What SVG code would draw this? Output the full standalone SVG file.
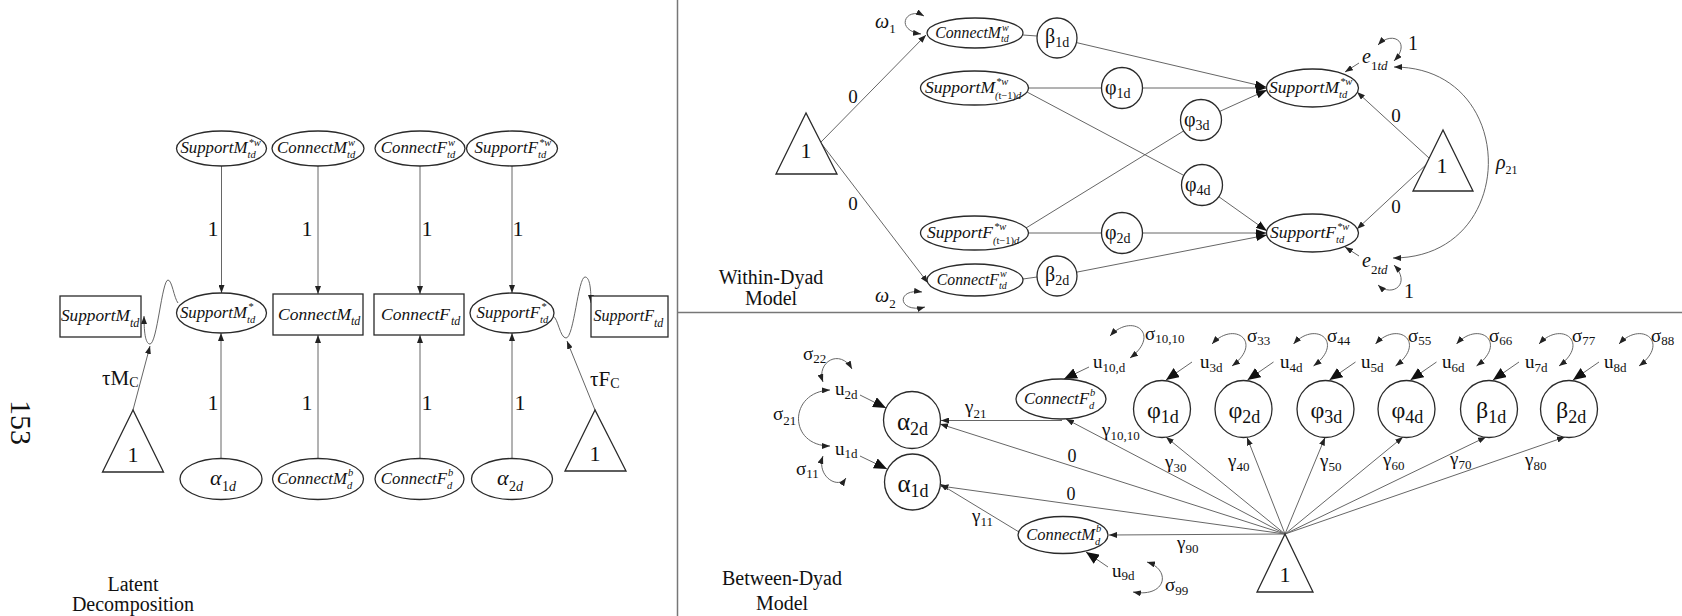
<svg xmlns="http://www.w3.org/2000/svg" width="1682" height="616" viewBox="0 0 1682 616">
<style>
.n{fill:#fff;stroke:#2a2a2a;stroke-width:1.3}
.e{fill:none;stroke:#666;stroke-width:1}
.t{font-family:"Liberation Serif","Times New Roman",serif;fill:#111}
.i{font-style:italic}
.u{font-style:normal}
.m{text-anchor:middle}
.r{text-anchor:end}
</style>
<defs>
<marker id="a" viewBox="0 0 8 6" refX="8" refY="3" markerWidth="8" markerHeight="6" markerUnits="userSpaceOnUse" orient="auto-start-reverse"><path d="M0,0L8,3L0,6z" fill="#222"/></marker>
<marker id="b" viewBox="0 0 13 11" refX="13" refY="5.5" markerWidth="13" markerHeight="11" markerUnits="userSpaceOnUse" orient="auto"><path d="M0,0L13,5.5L0,11z" fill="#111"/></marker>
<marker id="c" viewBox="0 0 11 8" refX="11" refY="4" markerWidth="11" markerHeight="8" markerUnits="userSpaceOnUse" orient="auto"><path d="M0,0L11,4L0,8z" fill="#111"/></marker>
</defs>
<rect width="1682" height="616" fill="#fff"/>

<g id="dividers" stroke="#777" stroke-width="1.5">
<line x1="677.5" y1="0" x2="677.5" y2="616"/>
<line x1="677" y1="312.5" x2="1682" y2="312.5"/>
</g>

<text id="page-number" class="t" transform="translate(11,400) rotate(90)" font-size="30">153</text>

<!-- ===== Latent decomposition ===== -->
<g id="L-edges" class="e">
<line x1="221.5" y1="166" x2="221.5" y2="293" marker-end="url(#a)"/>
<line x1="318" y1="166" x2="318" y2="294" marker-end="url(#a)"/>
<line x1="420" y1="166" x2="420" y2="294" marker-end="url(#a)"/>
<line x1="512" y1="166" x2="512" y2="293" marker-end="url(#a)"/>
<line x1="221" y1="458.5" x2="221" y2="333" marker-end="url(#a)"/>
<line x1="318" y1="458.5" x2="318" y2="335" marker-end="url(#a)"/>
<line x1="420" y1="458.5" x2="420" y2="335" marker-end="url(#a)"/>
<line x1="512" y1="458.5" x2="512" y2="333" marker-end="url(#a)"/>
<path d="M178,303 C174,298 172,280 168,280 C162,280 157,344 150,344 C145,344 144,330 144,316" marker-end="url(#a)"/>
<line x1="133" y1="410" x2="150" y2="346" marker-end="url(#a)"/>
<path d="M553,316 C558,318 560,338 566,338 C574,338 578,277 585,277 C590,277 591,290 591,303" marker-end="url(#a)"/>
<line x1="595" y1="410" x2="567" y2="341" marker-end="url(#a)"/>
</g>
<g id="L-edge-labels" class="t m" font-size="22">
<text x="213" y="236">1</text><text x="307" y="236">1</text><text x="427" y="236">1</text><text x="518" y="236">1</text>
<text x="213" y="410">1</text><text x="307" y="410">1</text><text x="427" y="410">1</text><text x="520" y="410">1</text>
</g>
<text id="L-tauM" class="t" x="102" y="385" font-size="21">τM<tspan font-size="14" dy="2">C</tspan></text>
<text id="L-tauF" class="t" x="590" y="386" font-size="21">τF<tspan font-size="14" dy="2">C</tspan></text>

<g id="L-SupportMw-top"><ellipse class="n" cx="221.5" cy="148.5" rx="45" ry="17.5"/>
<text class="t i r" x="247.5" y="153" font-size="16.8">SupportM</text><text class="t i" x="248.5" y="146" font-size="10.5">*w</text><text class="t i" x="247.5" y="157.5" font-size="10.5">td</text></g>
<g id="L-ConnectMw-top"><ellipse class="n" cx="318" cy="148.5" rx="46" ry="17.5"/>
<text class="t i r" x="347" y="153" font-size="16.8">ConnectM</text><text class="t i" x="348" y="146" font-size="10.5">w</text><text class="t i" x="347" y="157.5" font-size="10.5">td</text></g>
<g id="L-ConnectFw-top"><ellipse class="n" cx="420" cy="148.5" rx="45" ry="17.5"/>
<text class="t i r" x="447" y="153" font-size="16.8">ConnectF</text><text class="t i" x="448" y="146" font-size="10.5">w</text><text class="t i" x="447" y="157.5" font-size="10.5">td</text></g>
<g id="L-SupportFw-top"><ellipse class="n" cx="512" cy="148.5" rx="45.5" ry="17.5"/>
<text class="t i r" x="538" y="153" font-size="16.8">SupportF</text><text class="t i" x="539" y="146" font-size="10.5">*w</text><text class="t i" x="538" y="157.5" font-size="10.5">td</text></g>

<g id="L-SupportM-obs"><rect class="n" x="60" y="296" width="81" height="41"/>
<text class="t i r" x="130" y="321" font-size="17.3">SupportM</text><text class="t i" x="130" y="327" font-size="12">td</text></g>
<g id="L-SupportM-star"><ellipse class="n" cx="221.5" cy="313" rx="45" ry="20"/>
<text class="t i r" x="247" y="318" font-size="16.8">SupportM</text><text class="t i" x="248" y="310" font-size="10.5">*</text><text class="t i" x="247" y="323" font-size="10.5">td</text></g>
<g id="L-ConnectM-obs"><rect class="n" x="273" y="294" width="90" height="41"/>
<text class="t i r" x="351" y="320" font-size="17.5">ConnectM</text><text class="t i" x="351" y="325" font-size="12">td</text></g>
<g id="L-ConnectF-obs"><rect class="n" x="374" y="294" width="90" height="41"/>
<text class="t i r" x="450" y="320" font-size="17.5">ConnectF</text><text class="t i" x="451" y="325" font-size="12">td</text></g>
<g id="L-SupportF-star"><ellipse class="n" cx="512" cy="313" rx="42" ry="20"/>
<text class="t i r" x="540" y="318" font-size="16.8">SupportF</text><text class="t i" x="541" y="310" font-size="10.5">*</text><text class="t i" x="540" y="323" font-size="10.5">td</text></g>
<g id="L-SupportF-obs"><rect class="n" x="591" y="296" width="77" height="41"/>
<text class="t i r" x="654" y="321" font-size="16">SupportF</text><text class="t i" x="654" y="327" font-size="12">td</text></g>

<g id="L-alpha1"><ellipse class="n" cx="221" cy="479" rx="41" ry="20.5"/>
<text class="t i" x="210" y="485" font-size="22">α</text><text class="t" x="222" y="491" font-size="14">1<tspan class="i">d</tspan></text></g>
<g id="L-ConnectMb"><ellipse class="n" cx="318" cy="479" rx="45.5" ry="20.5"/>
<text class="t i r" x="347" y="484" font-size="16.8">ConnectM</text><text class="t i" x="348" y="476" font-size="10.5">b</text><text class="t i" x="347" y="489" font-size="10.5">d</text></g>
<g id="L-ConnectFb"><ellipse class="n" cx="419.5" cy="479" rx="44.5" ry="20.5"/>
<text class="t i r" x="447" y="484" font-size="16.8">ConnectF</text><text class="t i" x="448" y="476" font-size="10.5">b</text><text class="t i" x="447" y="489" font-size="10.5">d</text></g>
<g id="L-alpha2"><ellipse class="n" cx="512" cy="479" rx="40.5" ry="20.5"/>
<text class="t i" x="497" y="485" font-size="22">α</text><text class="t" x="509" y="491" font-size="14">2<tspan class="i">d</tspan></text></g>
<g id="L-const1"><polygon class="n" points="133,410 102.5,472 163.5,472"/><text class="t m" x="133" y="462" font-size="22">1</text></g>
<g id="L-const2"><polygon class="n" points="595,410 565,471 626,471"/><text class="t m" x="595" y="461" font-size="22">1</text></g>
<text id="L-title" class="t m" font-size="20"><tspan x="133" y="591">Latent</tspan><tspan x="133" y="611">Decomposition</tspan></text>

<!-- ===== Within-dyad ===== -->
<g id="W-edges" class="e">
<line x1="821" y1="142" x2="926" y2="35" marker-end="url(#a)"/>
<line x1="821" y1="143" x2="928" y2="283" marker-end="url(#a)"/>
<path d="M924,16 C906,6 894,30 921,34" marker-start="url(#a)" marker-end="url(#a)"/>
<path d="M922,292 C895,288 898,314 925,307" marker-start="url(#a)" marker-end="url(#a)"/>
<line x1="1023" y1="35" x2="1037" y2="36"/>
<line x1="1023" y1="279" x2="1037" y2="277"/>
<line x1="1076.5" y1="42.6" x2="1266" y2="87" marker-end="url(#c)"/>
<line x1="1028.5" y1="88" x2="1101.5" y2="88"/>
<line x1="1142.5" y1="88" x2="1266.5" y2="88" marker-end="url(#c)"/>
<line x1="1219.5" y1="111.5" x2="1267" y2="90" marker-end="url(#c)"/>
<line x1="1027" y1="92" x2="1184" y2="175.5"/>
<line x1="1218.5" y1="196.5" x2="1267" y2="231" marker-end="url(#c)"/>
<line x1="1026" y1="228" x2="1183.5" y2="131"/>
<line x1="1028.5" y1="233" x2="1101.5" y2="233"/>
<line x1="1142.5" y1="233" x2="1266.5" y2="233" marker-end="url(#c)"/>
<line x1="1076.5" y1="272.2" x2="1267" y2="235" marker-end="url(#c)"/>
<line x1="1429" y1="158" x2="1357" y2="92" marker-end="url(#a)"/>
<line x1="1429" y1="162" x2="1357" y2="229" marker-end="url(#a)"/>
<line x1="1359" y1="63" x2="1345" y2="72" marker-end="url(#a)"/>
<line x1="1359" y1="256" x2="1345" y2="247" marker-end="url(#a)"/>
<path d="M1378,45 C1392,30 1412,42 1394,61" marker-start="url(#a)" marker-end="url(#a)"/>
<path d="M1394,265 C1412,284 1392,298 1378,285" marker-start="url(#a)" marker-end="url(#a)"/>
<path d="M1394,67 C1520,67 1520,258 1393,258" marker-start="url(#a)" marker-end="url(#a)"/>
</g>
<g id="W-edge-labels" class="t" font-size="19">
<text class="m" x="853" y="103">0</text><text class="m" x="853" y="210">0</text>
<text class="m" x="1396" y="122">0</text><text class="m" x="1396" y="213">0</text>
<text class="i" x="875" y="28" font-size="20">ω<tspan class="u" font-size="13" dy="5">1</tspan></text>
<text class="i" x="875" y="302" font-size="20">ω<tspan class="u" font-size="13" dy="6">2</tspan></text>
<text class="i" x="1362" y="63" font-size="20">e<tspan font-size="13" dy="7"><tspan class="u">1</tspan>td</tspan></text>
<text class="i" x="1362" y="267" font-size="20">e<tspan font-size="13" dy="7"><tspan class="u">2</tspan>td</tspan></text>
<text class="m" x="1413" y="50" font-size="20">1</text>
<text class="m" x="1409" y="298" font-size="20">1</text>
<text class="i" x="1496" y="169" font-size="20">ρ<tspan class="u" font-size="12" dy="5">21</tspan></text>
</g>
<g id="W-const1"><polygon class="n" points="806,113 776,174 837,174"/><text class="t m" x="806" y="158" font-size="22">1</text></g>
<g id="W-const2"><polygon class="n" points="1443,130 1413,191 1473,191"/><text class="t m" x="1442" y="173" font-size="22">1</text></g>
<g id="W-ConnectMw"><ellipse class="n" cx="975" cy="33" rx="48" ry="15"/>
<text class="t i r" x="1001" y="38" font-size="15.8">ConnectM</text><text class="t i" x="1002" y="30.5" font-size="10">w</text><text class="t i" x="1001" y="42" font-size="10">td</text></g>
<g id="W-SupportMprev"><ellipse class="n" cx="974.5" cy="88" rx="54" ry="17"/>
<text class="t i r" x="995" y="93" font-size="17.5">SupportM</text><text class="t i" x="996" y="85" font-size="10.5">*w</text><text class="t i" x="995" y="99" font-size="10.5">(<tspan class="u">t−1)</tspan>d</text></g>
<g id="W-SupportFprev"><ellipse class="n" cx="974.5" cy="233" rx="54" ry="17"/>
<text class="t i r" x="993" y="238" font-size="17.5">SupportF</text><text class="t i" x="994" y="230" font-size="10.5">*w</text><text class="t i" x="993" y="244" font-size="10.5">(<tspan class="u">t−1)</tspan>d</text></g>
<g id="W-ConnectFw"><ellipse class="n" cx="975" cy="280" rx="48" ry="16"/>
<text class="t i r" x="999" y="285" font-size="15.8">ConnectF</text><text class="t i" x="1000" y="277" font-size="10">w</text><text class="t i" x="999" y="289" font-size="10">td</text></g>
<g id="W-beta1"><circle class="n" cx="1057" cy="38" r="20"/><text class="t" x="1045" y="43" font-size="20">β<tspan font-size="14" dy="4">1d</tspan></text></g>
<g id="W-beta2"><circle class="n" cx="1057" cy="276" r="20"/><text class="t" x="1045" y="281" font-size="20">β<tspan font-size="14" dy="4">2d</tspan></text></g>
<g id="W-phi1"><circle class="n" cx="1122" cy="88" r="20.5"/><text class="t" x="1105" y="94" font-size="20">φ<tspan font-size="14" dy="4">1d</tspan></text></g>
<g id="W-phi3"><circle class="n" cx="1201" cy="120" r="20.5"/><text class="t" x="1184" y="126" font-size="20">φ<tspan font-size="14" dy="4">3d</tspan></text></g>
<g id="W-phi4"><circle class="n" cx="1202" cy="185" r="20.5"/><text class="t" x="1185" y="191" font-size="20">φ<tspan font-size="14" dy="4">4d</tspan></text></g>
<g id="W-phi2"><circle class="n" cx="1122" cy="233" r="20.5"/><text class="t" x="1105" y="239" font-size="20">φ<tspan font-size="14" dy="4">2d</tspan></text></g>
<g id="W-SupportMw"><ellipse class="n" cx="1312.5" cy="88" rx="46" ry="19"/>
<text class="t i r" x="1339" y="93" font-size="17.5">SupportM</text><text class="t i" x="1340" y="85" font-size="10.5">*w</text><text class="t i" x="1339" y="98" font-size="10.5">td</text></g>
<g id="W-SupportFw"><ellipse class="n" cx="1312.5" cy="233" rx="46" ry="19"/>
<text class="t i r" x="1336" y="238" font-size="17.5">SupportF</text><text class="t i" x="1337" y="230" font-size="10.5">*w</text><text class="t i" x="1336" y="243" font-size="10.5">td</text></g>
<text id="W-title" class="t m" font-size="20"><tspan x="771" y="284">Within-Dyad</tspan><tspan x="771" y="305">Model</tspan></text>

<!-- ===== Between-dyad ===== -->
<g id="B-edges" class="e">
<line x1="1285" y1="534" x2="940" y2="424" marker-end="url(#a)"/>
<line x1="1285" y1="534" x2="940.5" y2="486" marker-end="url(#a)"/>
<line x1="1285" y1="534" x2="1066" y2="419" marker-end="url(#a)"/>
<line x1="1285" y1="534" x2="1109" y2="535" marker-end="url(#a)"/>
<line x1="1285" y1="534" x2="1166" y2="437" marker-end="url(#a)"/>
<line x1="1285" y1="534" x2="1247" y2="437.5" marker-end="url(#a)"/>
<line x1="1285" y1="534" x2="1325" y2="437.5" marker-end="url(#a)"/>
<line x1="1285" y1="534" x2="1403" y2="437" marker-end="url(#a)"/>
<line x1="1285" y1="534" x2="1486" y2="437" marker-end="url(#a)"/>
<line x1="1285" y1="534" x2="1565" y2="437" marker-end="url(#a)"/>
<line x1="1062" y1="420.5" x2="941" y2="420.5" marker-end="url(#a)"/>
<line x1="1019" y1="532" x2="940" y2="484" marker-end="url(#a)"/>
<line x1="860" y1="395" x2="886" y2="408" marker-end="url(#b)"/>
<line x1="860" y1="456" x2="887" y2="469" marker-end="url(#b)"/>
<line x1="1108" y1="567" x2="1086" y2="552" marker-end="url(#b)"/>
<line x1="1089" y1="367" x2="1064" y2="379" marker-end="url(#b)"/>
<line x1="1192" y1="362" x2="1166" y2="380" marker-end="url(#b)"/>
<line x1="1273.5" y1="362" x2="1247.5" y2="380" marker-end="url(#b)"/>
<line x1="1355.5" y1="362" x2="1329.5" y2="380" marker-end="url(#b)"/>
<line x1="1436.5" y1="362" x2="1410.5" y2="380" marker-end="url(#b)"/>
<line x1="1519" y1="362" x2="1493" y2="380" marker-end="url(#b)"/>
<line x1="1599" y1="362" x2="1573" y2="380" marker-end="url(#b)"/>
<path d="M823,382 C816,362 840,348 852,369" marker-start="url(#a)" marker-end="url(#a)"/>
<path d="M823,456 C816,476 838,490 846,478" marker-start="url(#a)" marker-end="url(#a)"/>
<path d="M830,390 C788,392 788,446 830,446" marker-start="url(#a)" marker-end="url(#a)"/>
<path d="M1147,562 C1172,570 1166,598 1133,592" marker-start="url(#a)" marker-end="url(#a)"/>
<path d="M1110,336 C1132,312 1162,334 1130,358" marker-start="url(#a)" marker-end="url(#a)"/>
<path d="M1212,344 C1234,320 1264,342 1232,366" marker-start="url(#a)" marker-end="url(#a)"/>
<path d="M1293.5,344 C1315.5,320 1345.5,342 1313.5,366" marker-start="url(#a)" marker-end="url(#a)"/>
<path d="M1375.5,344 C1397.5,320 1427.5,342 1395.5,366" marker-start="url(#a)" marker-end="url(#a)"/>
<path d="M1456.5,344 C1478.5,320 1508.5,342 1476.5,366" marker-start="url(#a)" marker-end="url(#a)"/>
<path d="M1539,344 C1561,320 1591,342 1559,366" marker-start="url(#a)" marker-end="url(#a)"/>
<path d="M1619,344 C1641,320 1671,342 1639,366" marker-start="url(#a)" marker-end="url(#a)"/>
</g>
<g id="B-edge-labels" class="t" font-size="19">
<text x="965" y="413">γ<tspan font-size="13" dy="5">21</tspan></text>
<text x="1102" y="436">γ<tspan font-size="13" dy="4">10,10</tspan></text>
<text x="1165" y="468">γ<tspan font-size="13" dy="4">30</tspan></text>
<text x="1228" y="467">γ<tspan font-size="13" dy="4">40</tspan></text>
<text x="1320" y="467">γ<tspan font-size="13" dy="4">50</tspan></text>
<text x="1383" y="466">γ<tspan font-size="13" dy="4">60</tspan></text>
<text x="1450" y="465">γ<tspan font-size="13" dy="4">70</tspan></text>
<text x="1525" y="466">γ<tspan font-size="13" dy="4">80</tspan></text>
<text x="1177" y="549">γ<tspan font-size="13" dy="4">90</tspan></text>
<text x="972" y="522">γ<tspan font-size="13" dy="4">11</tspan></text>
<text class="m" x="1072" y="462" font-size="18">0</text>
<text class="m" x="1071" y="500" font-size="18">0</text>
<text x="835" y="395">u<tspan font-size="13" dy="4">2d</tspan></text>
<text x="835" y="455">u<tspan font-size="13" dy="3">1d</tspan></text>
<text x="803" y="360">σ<tspan font-size="13" dy="3">22</tspan></text>
<text x="773" y="420">σ<tspan font-size="13" dy="5">21</tspan></text>
<text x="796" y="475">σ<tspan font-size="13" dy="3">11</tspan></text>
<text x="1112" y="577">u<tspan font-size="13" dy="3">9d</tspan></text>
<text x="1165" y="591">σ<tspan font-size="13" dy="4">99</tspan></text>
<text x="1093" y="368">u<tspan font-size="13" dy="4">10,d</tspan></text>
<text x="1145" y="340">σ<tspan font-size="13" dy="3">10,10</tspan></text>
<text x="1200" y="368">u<tspan font-size="13" dy="4">3d</tspan></text>
<text x="1280" y="368">u<tspan font-size="13" dy="4">4d</tspan></text>
<text x="1361" y="368">u<tspan font-size="13" dy="4">5d</tspan></text>
<text x="1442" y="368">u<tspan font-size="13" dy="4">6d</tspan></text>
<text x="1525" y="368">u<tspan font-size="13" dy="4">7d</tspan></text>
<text x="1604" y="368">u<tspan font-size="13" dy="4">8d</tspan></text>
<text x="1247" y="342">σ<tspan font-size="13" dy="3">33</tspan></text>
<text x="1327" y="342">σ<tspan font-size="13" dy="3">44</tspan></text>
<text x="1408" y="342">σ<tspan font-size="13" dy="3">55</tspan></text>
<text x="1489" y="342">σ<tspan font-size="13" dy="3">66</tspan></text>
<text x="1572" y="342">σ<tspan font-size="13" dy="3">77</tspan></text>
<text x="1651" y="342">σ<tspan font-size="13" dy="3">88</tspan></text>
</g>
<g id="B-alpha2"><circle class="n" cx="912" cy="420" r="28.5"/><text class="t" x="897" y="430" font-size="25">α<tspan font-size="18" dy="5">2d</tspan></text></g>
<g id="B-alpha1"><circle class="n" cx="912.5" cy="482" r="28"/><text class="t" x="897.5" y="492" font-size="25">α<tspan font-size="18" dy="5">1d</tspan></text></g>
<g id="B-ConnectFb"><ellipse class="n" cx="1061" cy="399" rx="45" ry="20"/>
<text class="t i r" x="1089" y="404" font-size="16.5">ConnectF</text><text class="t i" x="1090" y="396" font-size="10.5">b</text><text class="t i" x="1089" y="409" font-size="10.5">d</text></g>
<g id="B-ConnectMb"><ellipse class="n" cx="1063" cy="535" rx="45" ry="18.5"/>
<text class="t i r" x="1095" y="540" font-size="16.5">ConnectM</text><text class="t i" x="1096" y="532" font-size="10.5">b</text><text class="t i" x="1095" y="545" font-size="10.5">d</text></g>
<g id="B-phi1"><circle class="n" cx="1162" cy="409" r="28.5"/><text class="t" x="1147" y="418" font-size="24">φ<tspan font-size="18" dy="5">1d</tspan></text></g>
<g id="B-phi2"><circle class="n" cx="1243.5" cy="409" r="28.5"/><text class="t" x="1228.5" y="418" font-size="24">φ<tspan font-size="18" dy="5">2d</tspan></text></g>
<g id="B-phi3"><circle class="n" cx="1325.5" cy="409" r="28.5"/><text class="t" x="1310.5" y="418" font-size="24">φ<tspan font-size="18" dy="5">3d</tspan></text></g>
<g id="B-phi4"><circle class="n" cx="1406.5" cy="409" r="28.5"/><text class="t" x="1391.5" y="418" font-size="24">φ<tspan font-size="18" dy="5">4d</tspan></text></g>
<g id="B-beta1"><circle class="n" cx="1489" cy="409" r="28.5"/><text class="t" x="1476" y="418" font-size="24">β<tspan font-size="18" dy="5">1d</tspan></text></g>
<g id="B-beta2"><circle class="n" cx="1569" cy="409" r="28.5"/><text class="t" x="1556" y="418" font-size="24">β<tspan font-size="18" dy="5">2d</tspan></text></g>
<g id="B-const"><polygon class="n" points="1285,534 1257,592 1313,592"/><text class="t m" x="1285" y="582" font-size="22">1</text></g>
<text id="B-title" class="t m" font-size="20"><tspan x="782" y="585">Between-Dyad</tspan><tspan x="782" y="610">Model</tspan></text>
</svg>
